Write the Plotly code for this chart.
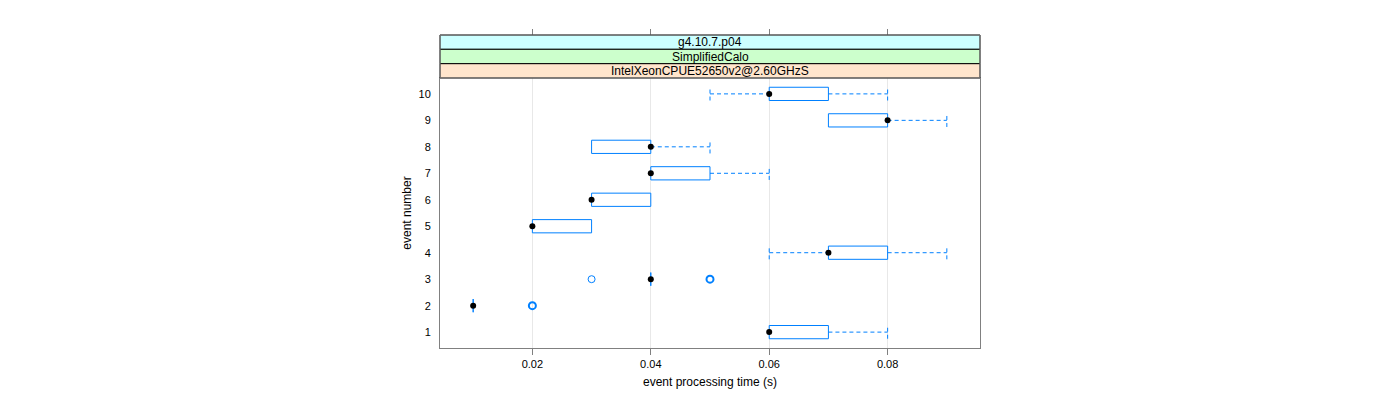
import plotly.graph_objects as go

# ---- data ----
events = [1, 2, 3, 4, 5, 6, 7, 8, 9, 10]
lower_whisker = [0.06, 0.01, 0.04, 0.06, 0.02, 0.03, 0.04, 0.03, 0.07, 0.05]
q1 = [0.06, 0.01, 0.04, 0.07, 0.02, 0.03, 0.04, 0.03, 0.07, 0.06]
median = [0.06, 0.01, 0.04, 0.07, 0.02, 0.03, 0.04, 0.04, 0.08, 0.06]
q3 = [0.07, 0.01, 0.04, 0.08, 0.03, 0.04, 0.05, 0.04, 0.08, 0.07]
upper_whisker = [0.08, 0.01, 0.04, 0.09, 0.03, 0.04, 0.06, 0.05, 0.09, 0.08]
outlier_event = [2, 3, 3]
outlier_value = [0.02, 0.03, 0.05]
outlier_count = [3, 1, 3]
x_ticks = [0.02, 0.04, 0.06, 0.08]
strip_labels = ["g4.10.7.p04", "SimplifiedCalo", "IntelXeonCPUE52650v2@2.60GHzS"]
strip_colors = ["#CCFFFF", "#CCFFCC", "#FFE5CC"]

BLUE = "#0080ff"
HALF = 0.25

fig = go.Figure()

# boxes
bx, by = [], []
for e, a, b in zip(events, q1, q3):
    bx += [a, b, b, a, a, None]
    by += [e - HALF, e - HALF, e + HALF, e + HALF, e - HALF, None]
fig.add_trace(go.Scatter(x=bx, y=by, mode="lines", line=dict(color=BLUE, width=1),
                         hoverinfo="skip", showlegend=False))

# whiskers + caps (dashed)
wx, wy = [], []
for e, lo, a, b, hi in zip(events, lower_whisker, q1, q3, upper_whisker):
    if lo < a:
        wx += [lo, a, None, lo, lo, None]
        wy += [e, e, None, e - HALF, e + HALF, None]
    if hi > b:
        wx += [b, hi, None, hi, hi, None]
        wy += [e, e, None, e - HALF, e + HALF, None]
fig.add_trace(go.Scatter(x=wx, y=wy, mode="lines",
                         line=dict(color=BLUE, width=1, dash="4px,3px"),
                         hoverinfo="skip", showlegend=False))

# outliers
fig.add_trace(go.Scatter(
    x=outlier_value, y=outlier_event, mode="markers",
    marker=dict(symbol="circle-open", size=7, color=BLUE,
                line=dict(color=BLUE, width=[2 if c > 1 else 1 for c in outlier_count])),
    showlegend=False))

# medians
fig.add_trace(go.Scatter(x=median, y=events, mode="markers",
                         marker=dict(symbol="circle", size=6, color="black"),
                         showlegend=False))

# invisible trace for top axis
fig.add_trace(go.Scatter(x=[x_ticks[0]], y=[1], xaxis="x2", mode="markers",
                         marker=dict(opacity=0), hoverinfo="skip", showlegend=False))

# page body has an 8px margin: plot area should end up at x 440..980, y 35..348
TOP, BOT = 27, 340
H = BOT - TOP
DOM_TOP = (BOT - 70) / H
fig.update_layout(
    width=1400, height=400,
    margin=dict(l=432, r=428, t=TOP, b=400 - BOT),
    plot_bgcolor="white", paper_bgcolor="white",
    font=dict(family="Liberation Sans, Arial, sans-serif", size=11, color="black"),
    xaxis=dict(range=[0.0044, 0.0956], tickvals=x_ticks,
               ticktext=[f"{v:.2f}" for v in x_ticks],
               ticks="outside", ticklen=6, tickcolor="#808080",
               showline=True, linecolor="#808080", mirror=True, linewidth=1,
               showgrid=True, gridcolor="#e8e8e8", zeroline=False,
               title=dict(text="event processing time (s)", font=dict(size=12), standoff=8),
               anchor="y"),
    xaxis2=dict(range=[0.0044, 0.0956], tickvals=x_ticks, overlaying="x",
                side="top", anchor="free", position=1.0,
                ticks="outside", ticklen=6, tickcolor="#808080",
                showticklabels=False, showgrid=False, zeroline=False, showline=False),
    yaxis=dict(range=[0.4, 10.6], tickvals=events, ticktext=[str(e) for e in events],
               domain=[0, DOM_TOP], ticks="", showgrid=False, zeroline=False,
               showline=True, linecolor="#808080", mirror=True, linewidth=1,
               ticklabelstandoff=6,
               title=dict(text="event number", font=dict(size=12), standoff=4)),
)

# strips (pixel rows inside the figure)
pix = [27, 41.3, 55.7, 70]
for i, (lab, col) in enumerate(zip(strip_labels, strip_colors)):
    y1 = (BOT - pix[i]) / H
    y0 = (BOT - pix[i + 1]) / H
    fig.add_shape(type="rect", xref="paper", yref="paper", x0=0, x1=1, y0=y0, y1=y1,
                  fillcolor=col, line=dict(color="black", width=1), layer="above")
    fig.add_annotation(text=lab, xref="paper", yref="paper", x=0.5, y=(y0 + y1) / 2,
                       showarrow=False, font=dict(size=12, color="black"),
                       xanchor="center", yanchor="middle")
fig.add_shape(type="rect", xref="paper", yref="paper", x0=0, x1=1,
              y0=DOM_TOP, y1=1, line=dict(color="#808080", width=1),
              layer="above")

fig.write_html("out.html")
